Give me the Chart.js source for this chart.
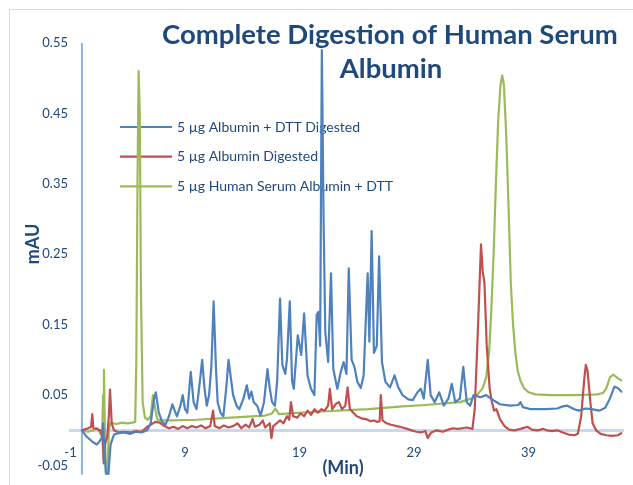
<!DOCTYPE html>
<html><head><meta charset="utf-8">
<script src="https://cdn.jsdelivr.net/npm/chart.js@4.4.0/dist/chart.umd.min.js"></script>
<style>html,body{margin:0;padding:0;background:#fff;overflow:hidden;}</style>
</head><body>
<canvas id="c" width="633" height="485"></canvas>
<script>
const titleLines = ["Complete Digestion of Human Serum", "Albumin"];
const xTitle = "(Min)";
const yTitle = "mAU";
const seriesNames = ["5 µg Albumin + DTT Digested", "5 µg Albumin Digested", "5 µg Human Serum Albumin + DTT"];
const seriesColors = ["#4F81BD", "#C0504D", "#9BBB59"];
const xTickValues = [-1, 9, 19, 29, 39];
const yTickValues = [-0.05, 0.05, 0.15, 0.25, 0.35, 0.45, 0.55];

const blueTime = [0,0.35,0.7,0.96,1.3,1.57,1.75,1.85,1.95,2.1,2.3,2.5,2.8,3.2,3.7,4.2,4.7,5.2,5.7,6.0,6.3,6.45,6.7,7.0,7.3,7.6,7.9,8.1,8.3,8.6,8.8,9.0,9.2,9.5,9.75,10.0,10.2,10.5,10.7,10.9,11.1,11.3,11.5,11.7,11.85,12.1,12.35,12.6,12.8,13.0,13.2,13.5,13.75,14.1,14.4,14.6,14.8,15.0,15.3,15.6,15.9,16.2,16.4,16.6,16.85,17.05,17.3,17.5,17.75,17.9,18.15,18.35,18.5,18.85,19.15,19.4,19.7,20.0,20.3,20.5,20.65,20.8,20.95,21.1,21.25,21.5,21.75,21.95,22.3,22.6,22.85,23.1,23.3,23.55,23.8,24.05,24.35,24.6,24.95,25.1,25.3,25.5,25.75,25.95,26.2,26.5,26.9,27.3,27.6,28.0,28.5,28.9,29.3,29.6,29.85,30.2,30.45,30.8,31.2,31.6,32.0,32.3,32.6,33.0,33.3,33.6,33.9,34.2,34.8,35.3,35.9,36.5,37.4,38.1,38.3,38.5,39.2,40.5,41.5,42.0,42.4,43.0,43.4,44.0,44.5,45.2,45.7,46.1,46.5,46.8,47.1];
const blueAbs = [0,-0.008,-0.013,-0.017,-0.02,-0.015,-0.01,0.01,-0.03,-0.06,-0.065,-0.02,-0.006,-0.004,-0.003,-0.005,-0.002,-0.003,0.0,0.01,0.045,0.054,0.026,0.012,0.008,0.02,0.037,0.028,0.02,0.035,0.05,0.03,0.025,0.083,0.04,0.03,0.055,0.1,0.06,0.035,0.05,0.09,0.183,0.09,0.04,0.025,0.02,0.06,0.1,0.075,0.05,0.035,0.03,0.045,0.064,0.045,0.055,0.04,0.035,0.021,0.04,0.087,0.06,0.04,0.035,0.07,0.187,0.093,0.08,0.1,0.183,0.07,0.059,0.135,0.107,0.166,0.078,0.059,0.05,0.164,0.168,0.12,0.54,0.3,0.14,0.097,0.223,0.087,0.059,0.083,0.097,0.08,0.23,0.1,0.09,0.069,0.06,0.078,0.223,0.126,0.283,0.11,0.12,0.247,0.097,0.069,0.061,0.078,0.062,0.05,0.044,0.043,0.054,0.059,0.045,0.1,0.05,0.04,0.054,0.035,0.045,0.066,0.04,0.045,0.09,0.04,0.035,0.05,0.047,0.05,0.043,0.037,0.035,0.036,0.04,0.033,0.03,0.03,0.031,0.034,0.035,0.03,0.028,0.031,0.03,0.028,0.032,0.045,0.062,0.06,0.055];

const redTime = [0,0.4,0.8,0.9,1.0,1.3,1.6,1.8,1.9,2.0,2.2,2.35,2.45,2.6,2.8,3.2,3.7,4.2,4.7,5.2,5.7,6.0,6.4,6.8,7.2,7.6,8.0,8.4,8.8,9.2,9.6,10.0,10.4,10.8,11.2,11.45,11.6,12.0,12.4,12.8,13.2,13.6,13.9,14.3,14.6,14.9,15.1,15.5,15.8,16.0,16.4,16.55,16.7,17.0,17.3,17.6,17.9,18.1,18.25,18.45,18.8,19.1,19.4,19.7,20.0,20.3,20.6,20.9,21.2,21.5,21.65,21.85,22.2,22.45,22.7,23.0,23.2,23.4,23.7,24.0,24.4,24.8,25.2,25.5,25.8,26.0,26.1,26.25,26.6,27.0,27.5,28.0,28.4,28.8,29.2,29.6,30.0,30.2,30.5,31.0,31.5,32.0,32.4,32.8,33.2,33.6,34.1,34.3,34.55,34.75,34.85,35.0,35.15,35.35,35.6,35.8,36.0,36.2,36.5,36.9,37.3,37.8,38.3,38.9,39.3,39.8,40.3,40.6,41.0,41.5,42.0,42.5,43.0,43.3,43.6,43.85,44.0,44.15,44.4,44.6,44.9,45.3,45.8,46.3,46.8,47.1];
const redAbs = [0,0.002,0.005,0.023,0.003,0.002,0.0,-0.01,-0.047,-0.02,-0.01,0.02,0.058,0.01,0.0,-0.003,-0.002,-0.003,-0.001,-0.002,0.005,0.008,0.012,0.011,0.006,0.003,0.005,0.002,0.006,0.003,0.006,0.004,0.007,0.003,0.006,0.028,0.006,0.003,0.007,0.004,0.006,0.01,0.003,0.008,0.004,0.016,0.005,0.008,0.014,0.004,0.01,-0.011,0.006,0.01,0.014,0.01,0.02,0.015,0.04,0.02,0.018,0.024,0.02,0.028,0.022,0.03,0.025,0.03,0.028,0.035,0.059,0.03,0.038,0.04,0.03,0.035,0.061,0.03,0.025,0.02,0.017,0.016,0.013,0.014,0.012,0.013,0.05,0.014,0.01,0.008,0.006,0.004,0.002,0.0,-0.002,-0.003,-0.001,-0.011,-0.003,0.0,-0.002,0.001,0.003,0.002,0.003,0.004,0.002,0.03,0.13,0.22,0.264,0.225,0.21,0.12,0.06,0.04,0.028,0.03,0.016,0.006,0.001,0.0,0.002,0.005,0.001,0.0,0.002,0.0,-0.001,0.0,-0.003,-0.006,-0.007,-0.005,0.02,0.07,0.093,0.085,0.04,0.01,0.0,-0.005,-0.007,-0.008,-0.007,-0.004];

const greenTime = [0,0.5,1.0,1.3,1.6,1.75,1.85,1.92,2.0,2.1,2.2,2.35,2.5,3.0,3.5,4.0,4.4,4.65,4.75,4.85,4.95,5.05,5.15,5.3,5.5,5.75,6.0,6.2,6.4,6.6,7.0,8.0,10.0,13.0,16.0,16.6,16.9,17.2,20.0,25.0,28.0,30.0,33.0,34.0,34.5,35.0,35.3,35.55,35.75,35.95,36.15,36.35,36.55,36.7,36.85,37.05,37.25,37.45,37.65,37.85,38.05,38.3,38.6,39.0,39.6,41.0,43.0,45.0,45.5,45.8,46.1,46.4,46.8,47.1];
const greenAbs = [0,-0.002,0.0,0.003,-0.004,-0.01,0.05,0.086,0.0,-0.07,-0.068,0.0,0.011,0.009,0.011,0.01,0.011,0.012,0.1,0.35,0.51,0.45,0.2,0.04,0.018,0.015,0.02,0.05,0.03,0.015,0.014,0.014,0.015,0.018,0.021,0.024,0.031,0.023,0.026,0.03,0.034,0.036,0.04,0.045,0.05,0.06,0.075,0.11,0.17,0.25,0.35,0.44,0.49,0.504,0.49,0.42,0.32,0.21,0.15,0.11,0.085,0.07,0.06,0.054,0.051,0.05,0.05,0.051,0.053,0.06,0.075,0.079,0.074,0.071];

const seriesTimes = [blueTime, redTime, greenTime];
const seriesValues = [blueAbs, redAbs, greenAbs];

const TEXT = "#1F497D";
const FONT = "Lato";

const datasets = seriesNames.map((name, i) => ({
  label: name,
  data: seriesTimes[i].map((t, j) => ({x: t, y: seriesValues[i][j]})),
  borderColor: seriesColors[i],
  backgroundColor: seriesColors[i],
  borderWidth: 2.2,
  pointRadius: 0,
  tension: 0,
  borderJoinStyle: 'round',
  borderCapStyle: 'round'
}));

const decor = {
  id: 'decor',
  beforeDraw(chart) {
    const ctx = chart.ctx;
    ctx.save();
    ctx.fillStyle = '#fff';
    ctx.fillRect(0, 0, chart.width, chart.height);
    ctx.strokeStyle = '#D9D9D9';
    ctx.lineWidth = 1;
    ctx.strokeRect(9.5, 9.5, 700, 600);
    ctx.restore();
  },
  beforeDatasetsDraw(chart) {
    const ctx = chart.ctx;
    const area = chart.chartArea;
    ctx.save();
    // vertical value axis crossing at time 0
    const x0 = chart.scales.x.getPixelForValue(0);
    ctx.strokeStyle = '#8EB4E3';
    ctx.lineWidth = 2;
    ctx.beginPath(); ctx.moveTo(x0, area.top); ctx.lineTo(x0, area.bottom); ctx.stroke();
    chart.data.datasets.forEach((ds, i) => {
      const y = 127 + i * 29.7;
      ctx.strokeStyle = ds.borderColor;
      ctx.lineWidth = 2.2;
      ctx.beginPath(); ctx.moveTo(120, y); ctx.lineTo(172, y); ctx.stroke();
      ctx.fillStyle = TEXT;
      ctx.font = "14px " + FONT;
      ctx.textBaseline = 'middle';
      ctx.textAlign = 'left';
      ctx.fillText(ds.label, 177, y);
    });
    ctx.restore();
  },
  afterDraw(chart) {
    const ctx = chart.ctx;
    ctx.save();
    ctx.fillStyle = TEXT;
    ctx.textAlign = 'center';
    ctx.textBaseline = 'alphabetic';
    ctx.font = "bold 27.5px " + FONT;
    ctx.fillText(titleLines[0], 390, 44);
    ctx.fillText(titleLines[1], 391, 78);
    ctx.font = "bold 18px " + FONT;
    ctx.textBaseline = 'middle';
    ctx.fillText(xTitle, 343, 468);
    ctx.translate(33, 244);
    ctx.rotate(-Math.PI / 2);
    ctx.fillText(yTitle, 0, 0);
    ctx.restore();
  }
};

new Chart(document.getElementById('c'), {
  type: 'line',
  data: { datasets },
  plugins: [decor],
  options: {
    responsive: false,
    animation: false,
    devicePixelRatio: 1,
    layout: { padding: { left: 0, right: 10, top: 43, bottom: 2 } },
    plugins: { legend: { display: false }, title: { display: false }, tooltip: { enabled: false } },
    scales: {
      x: {
        type: 'linear',
        position: { y: 0 },
        min: -1, max: 47.25,
        afterFit(s) { s.height = 0; },
        afterBuildTicks(s) { s.ticks = xTickValues.map(v => ({ value: v })); },
        grid: { display: false, drawTicks: false },
        border: { display: true, color: '#C6D9F1', width: 3 },
        ticks: { color: TEXT, font: { family: FONT, size: 13 }, padding: 15, maxRotation: 0, autoSkip: false,
                 callback: v => String(v) }
      },
      y: {
        type: 'linear',
        position: 'left',
        min: -0.063, max: 0.55,
        afterFit(s) { s.width = 70.5; },
        afterBuildTicks(s) { s.ticks = yTickValues.map(v => ({ value: v })); },
        grid: { display: false, drawTicks: false },
        border: { display: false },
        ticks: { color: TEXT, font: { family: FONT, size: 13 }, padding: 2.5, autoSkip: false,
                 callback: v => v.toFixed(2) }
      }
    }
  }
});
</script>
</body></html>
